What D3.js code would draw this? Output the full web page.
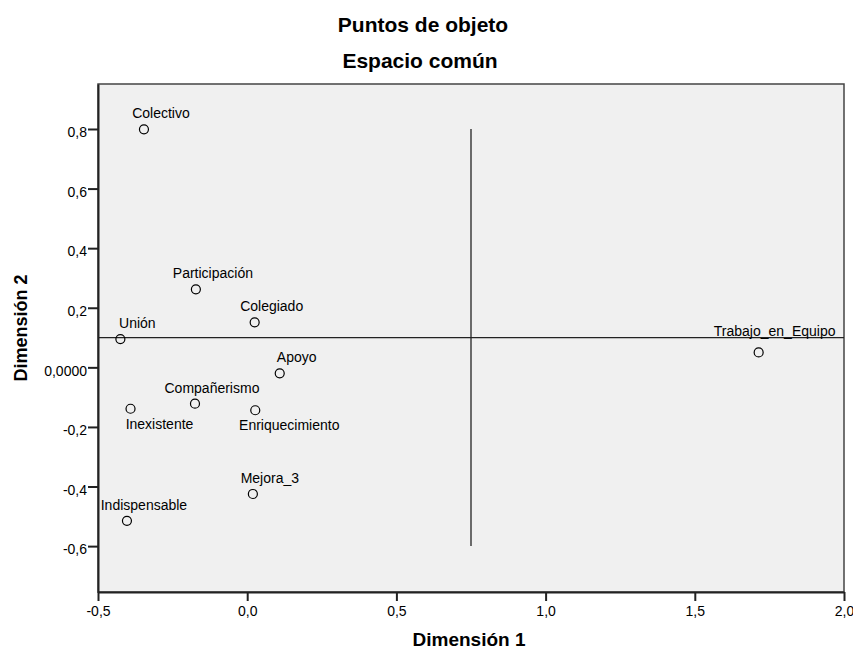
<!DOCTYPE html>
<html>
<head>
<meta charset="utf-8">
<script src="https://cdn.jsdelivr.net/npm/d3@7"></script>
<style>
	body { margin: 0; background: #fff; }
	text { font-family: "Liberation Sans", Arial, sans-serif; fill: #000; }
</style>
</head>
<body>
<div id="chart"></div>
<script>

var
	names = ["Colectivo", "Participación", "Colegiado", "Unión", "Apoyo", "Compañerismo",
		"Inexistente", "Enriquecimiento", "Mejora_3", "Indispensable", "Trabajo_en_Equipo"],
	dim1 = [-0.346, -0.172, 0.025, -0.425, 0.109, -0.175, -0.391, 0.027, 0.019, -0.403, 1.714],
	dim2 = [0.799, 0.262, 0.151, 0.095, -0.020, -0.122, -0.139, -0.144, -0.425, -0.515, 0.050],
	xTicks = [-0.5, 0, 0.5, 1.0, 1.5, 2.0],
	yTicks = [-0.6, -0.4, -0.2, 0, 0.2, 0.4, 0.6, 0.8],
	// reference lines at dimension 1 = 0.75 and dimension 2 = 0.1
	vLine = {x: 0.75, y0: -0.6, y1: 0.8},
	hLine = {y: 0.1}

// labels that do not sit above the point
var labelShift = {
	"Inexistente": {dx: 29, dy: 20},
	"Enriquecimiento": {dx: 34, dy: 20},
	"Trabajo_en_Equipo": {dx: 16, dy: -16}
}

var
	width = 853,
	height = 652,
	margin = {top: 84, right: 9, bottom: 60, left: 98},

	locale = d3.formatLocale({decimal: ",", thousands: ".", grouping: [3], currency: ["", ""], minus: "-"}),
	f1 = locale.format(".1f"),

	x = d3.scaleLinear()
		.domain([-0.5, 2.0])
		.range([margin.left, width - margin.right]),

	y = d3.scaleLinear()
		.domain([-0.754, 0.951])
		.range([height - margin.bottom, margin.top]),

	svg = d3.select("#chart")
		.append("svg")
		.attr("width", width)
		.attr("height", height),

	points = names.map((n, i) => ({name: n, d1: dim1[i], d2: dim2[i]}))

svg.append("rect")
	.attr("x", x.range()[0])
	.attr("y", y.range()[1])
	.attr("width", x.range()[1] - x.range()[0])
	.attr("height", y.range()[0] - y.range()[1])
	.attr("fill", "#f0f0f0")
	.attr("stroke", "#444")
	.attr("stroke-width", 1.5)

// titles
svg.append("text")
	.attr("x", 423).attr("y", 32)
	.attr("text-anchor", "middle")
	.style("font-size", "21px").style("font-weight", "bold")
	.text("Puntos de objeto")

svg.append("text")
	.attr("x", 420).attr("y", 68)
	.attr("text-anchor", "middle")
	.style("font-size", "21px").style("font-weight", "bold")
	.text("Espacio común")

svg.append("text")
	.attr("x", 469).attr("y", 646)
	.attr("text-anchor", "middle")
	.style("font-size", "19px").style("font-weight", "bold")
	.text("Dimensión 1")

svg.append("text")
	.attr("transform", "translate(27,328) rotate(-90)")
	.attr("text-anchor", "middle")
	.style("font-size", "18px").style("font-weight", "bold")
	.text("Dimensión 2")

// axes
var xAxis = svg.append("g")
	.attr("transform", `translate(0,${y.range()[0]})`)
	.call(d3.axisBottom(x).tickValues(xTicks).tickFormat(f1).tickSize(9).tickSizeOuter(0))

var yAxis = svg.append("g")
	.attr("transform", `translate(${x.range()[0]},0)`)
	.call(d3.axisLeft(y).tickValues(yTicks)
		.tickFormat(d => d === 0 ? "0,0000" : f1(d)).tickSize(10).tickSizeOuter(0))

svg.selectAll(".domain").attr("stroke", "#222").attr("stroke-width", 2)
svg.selectAll(".tick line").attr("stroke", "#222").attr("stroke-width", 2)
svg.selectAll(".tick text").style("font-size", "14px").attr("fill", "#000")
xAxis.selectAll(".tick text").attr("y", 14).attr("dy", "0.71em")
yAxis.selectAll(".tick text").attr("x", -11).attr("dy", "0.55em")

// reference lines
svg.append("line")
	.attr("x1", x(vLine.x)).attr("x2", x(vLine.x))
	.attr("y1", y(vLine.y1)).attr("y2", y(vLine.y0))
	.attr("stroke", "#222").attr("stroke-width", 1.3)

svg.append("line")
	.attr("x1", x.range()[0]).attr("x2", x.range()[1])
	.attr("y1", y(hLine.y)).attr("y2", y(hLine.y))
	.attr("stroke", "#222").attr("stroke-width", 1.3)

// points
var g = svg.append("g")

g.selectAll("circle")
	.data(points)
	.join("circle")
	.attr("cx", d => x(d.d1))
	.attr("cy", d => y(d.d2))
	.attr("r", 4.5)
	.attr("fill", "none")
	.attr("stroke", "#000")
	.attr("stroke-width", 1.2)

g.selectAll("text")
	.data(points)
	.join("text")
	.attr("x", d => x(d.d1) + (labelShift[d.name] ? labelShift[d.name].dx : 17))
	.attr("y", d => y(d.d2) + (labelShift[d.name] ? labelShift[d.name].dy : -11))
	.attr("text-anchor", "middle")
	.style("font-size", "14px")
	.text(d => d.name)

</script>
</body>
</html>
